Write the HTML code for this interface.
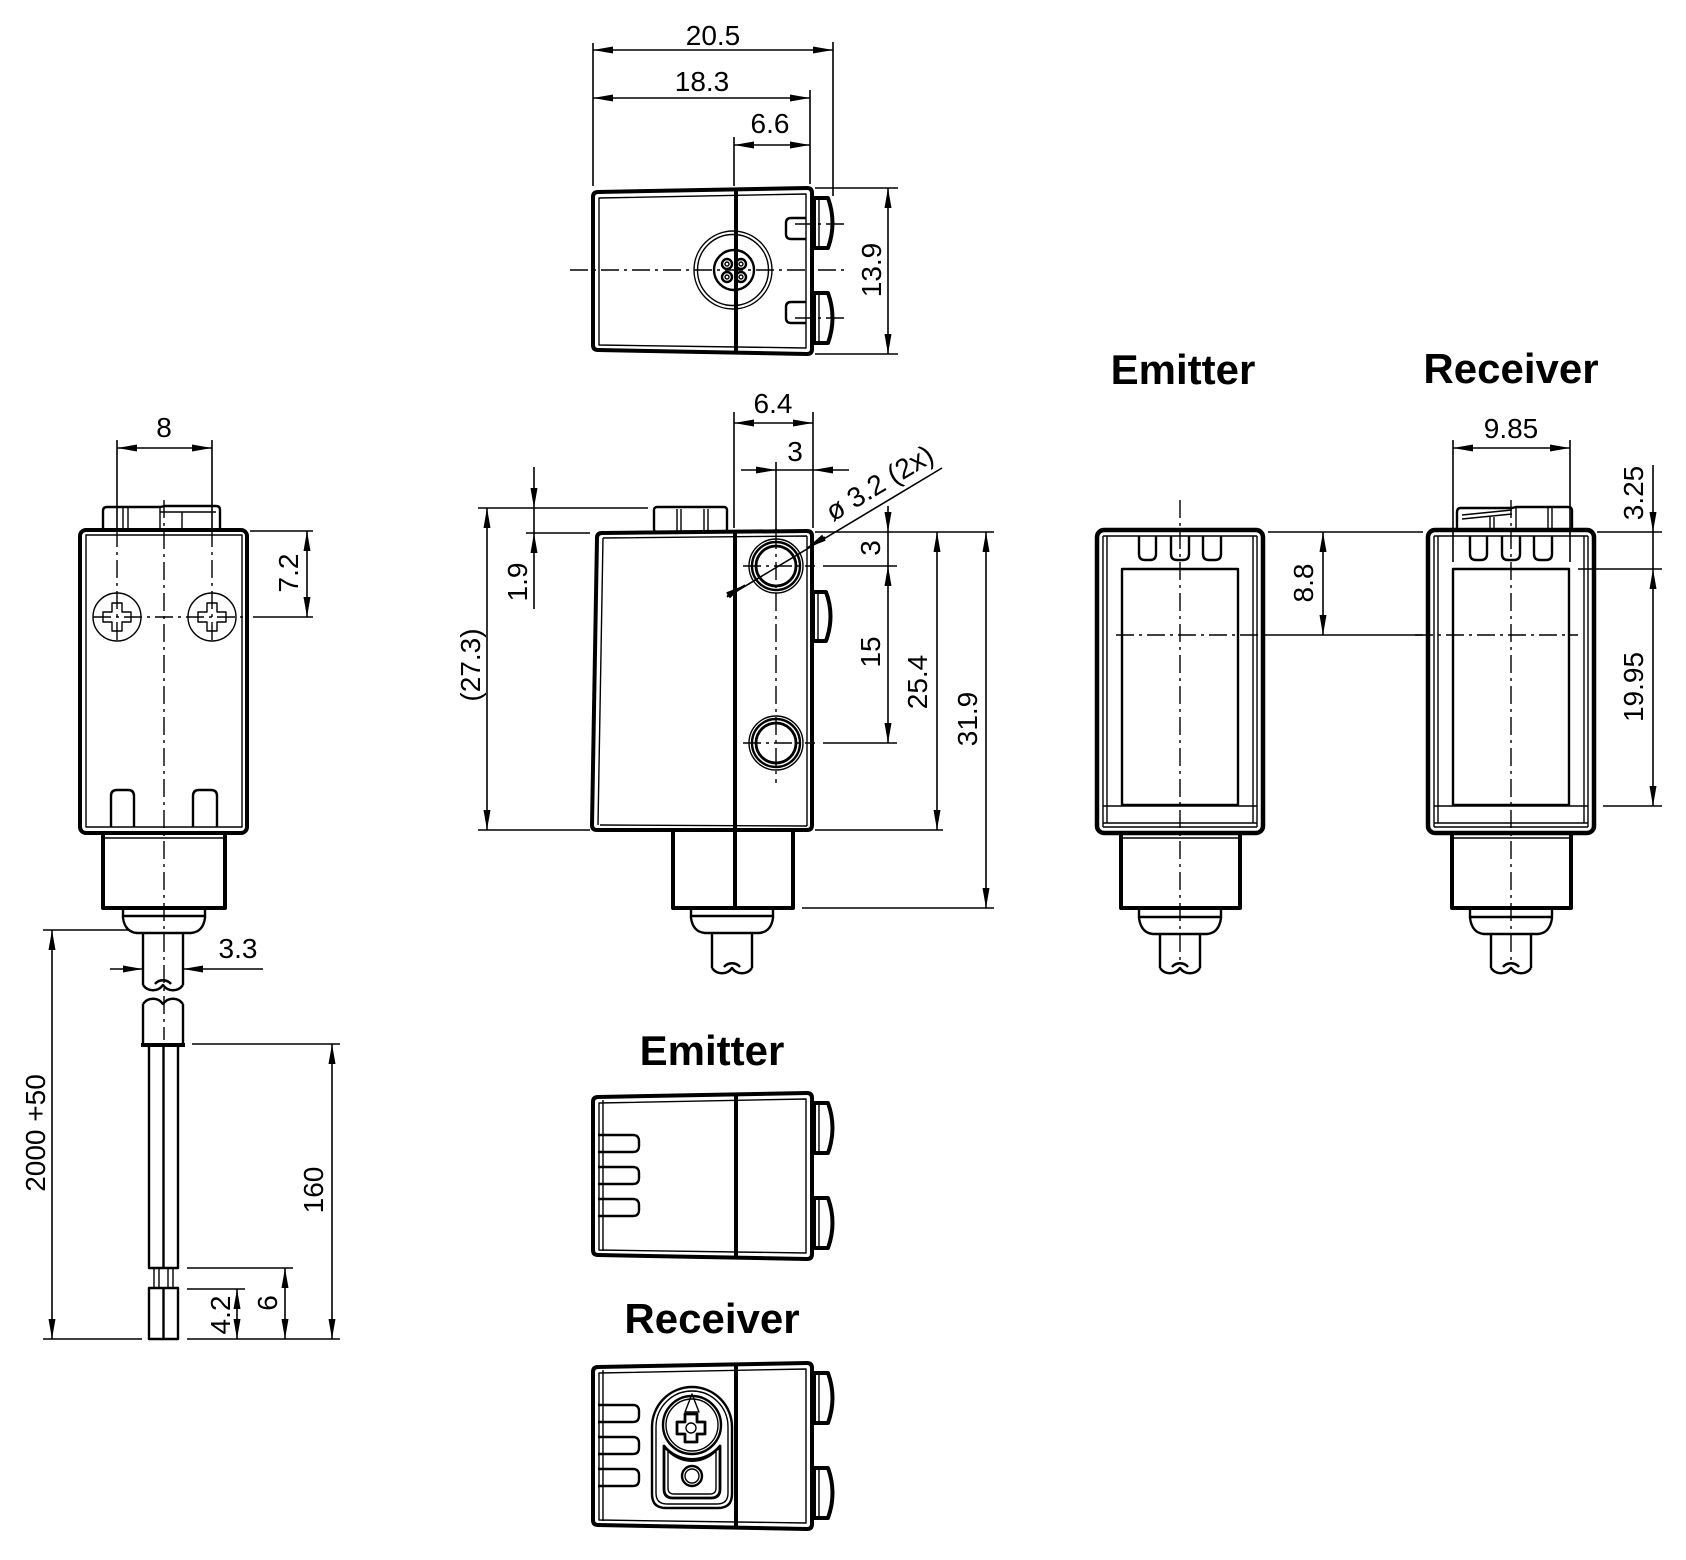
<!DOCTYPE html>
<html><head><meta charset="utf-8">
<style>
html,body{margin:0;padding:0;background:#fff;}
svg{display:block;}
text{font-family:"Liberation Sans",Arial,sans-serif;fill:#000;stroke:none;}
.d{font-size:28px;}
.b{font-size:42px;font-weight:bold;}
.t{stroke-width:4}
.m{stroke-width:2.4}
.n{stroke-width:1.4}
.dl{stroke-width:1.6}
.cl{stroke-width:1.4;stroke-dasharray:18 5 3 5}
</style></head><body>
<svg width="1686" height="1560" viewBox="0 0 1686 1560" xmlns="http://www.w3.org/2000/svg">
<defs>
<marker id="ah" viewBox="0 0 20 7" refX="20" refY="3.5" markerWidth="20" markerHeight="7" markerUnits="userSpaceOnUse" orient="auto-start-reverse"><path d="M0,0 L20,3.5 L0,7 z" fill="#000" stroke="none"/></marker>
</defs>
<g fill="none" stroke="#000" stroke-linejoin="round">

<!-- ========== TOP VIEW ========== -->
<g id="tb">
<path class="t" d="M598,192 L807,188 Q812,188 812,193 V349 Q812,354 807,354 L598,350 Q593,350 593,345 V197 Q593,192 598,192 Z"/>
<path class="n" d="M599,198 L806,194 V348 L599,345 Z"/>
<line class="t" x1="736" y1="189" x2="736" y2="353"/>
<path class="t" d="M814,198 H828 Q837,223 828,248 H814 Z M814,293 H828 Q837,318 828,343 H814 Z"/>
<path class="n" d="M819,198 V248 M819,293 V343"/>
</g>
<circle class="n" cx="733" cy="270" r="39"/>
<circle class="n" cx="733" cy="270" r="35.5"/>
<circle class="m" cx="734" cy="270" r="20"/>
<circle class="m" cx="727" cy="264" r="5"/><circle class="m" cx="741" cy="264" r="5"/>
<circle class="m" cx="727" cy="277" r="5"/><circle class="m" cx="741" cy="277" r="5"/>
<circle class="n" cx="727" cy="264" r="2"/><circle class="n" cx="741" cy="264" r="2"/>
<circle class="n" cx="727" cy="277" r="2"/><circle class="n" cx="741" cy="277" r="2"/>
<path class="m" d="M806,218 H791 Q786,218 786,223 V234 Q786,239 791,239 H806 M806,302 H791 Q786,302 786,307 V318 Q786,323 791,323 H806"/>
<line class="cl" x1="570" y1="270" x2="848" y2="270"/>
<line class="cl" x1="795" y1="224" x2="848" y2="224"/>
<line class="cl" x1="795" y1="318" x2="848" y2="318"/>
<!-- dims top -->
<path class="dl" d="M593,43 V186 M833,42 V196 M810,90 V184 M734,137 V186 M815,188 H898 M815,354 H898"/>
<line class="dl" x1="593" y1="50" x2="833" y2="50" marker-start="url(#ah)" marker-end="url(#ah)"/>
<line class="dl" x1="593" y1="98" x2="810" y2="98" marker-start="url(#ah)" marker-end="url(#ah)"/>
<line class="dl" x1="734" y1="145" x2="810" y2="145" marker-start="url(#ah)" marker-end="url(#ah)"/>
<line class="dl" x1="888" y1="188" x2="888" y2="354" marker-start="url(#ah)" marker-end="url(#ah)"/>
<text class="d" x="713" y="45" text-anchor="middle">20.5</text>
<text class="d" x="702" y="91" text-anchor="middle">18.3</text>
<text class="d" x="770" y="133" text-anchor="middle">6.6</text>
<text class="d" transform="translate(871,270) rotate(-90)" x="0" y="10" text-anchor="middle">13.9</text>

<!-- ========== MIDDLE SIDE VIEW ========== -->
<path class="t" d="M602,533 L807,531 Q812,531 812,536 V825 Q812,830 807,830 L597,830 Q592,830 592,825 L597,538 Q597,533 602,533 Z"/>
<path class="n" d="M603,538 L598,825 M600,825 L807,826 M603,538 L807,536 M807,536 V826"/>
<line class="t" x1="735" y1="531" x2="735" y2="908"/>
<rect class="m" x="654" y="507" width="73" height="25" rx="3"/>
<path class="n" d="M677,509 V531 M681,509 V531 M704,509 V531 M708,509 V531"/>
<circle class="n" cx="776" cy="566" r="27"/><circle class="m" cx="776" cy="566" r="24"/><circle cx="776" cy="566" r="20" stroke-width="2.8"/>
<circle class="n" cx="776" cy="743" r="27"/><circle class="m" cx="776" cy="743" r="24"/><circle cx="776" cy="743" r="20" stroke-width="2.8"/>
<line class="dl" x1="776" y1="462" x2="776" y2="531"/>
<line class="cl" x1="776" y1="531" x2="776" y2="783"/>
<line class="cl" x1="743" y1="566" x2="815" y2="566"/>
<line class="cl" x1="743" y1="743" x2="815" y2="743"/>
<path class="t" d="M813,592 H826 Q835,616 826,641 H813 Z"/>
<line class="n" x1="818" y1="592" x2="818" y2="641"/>
<rect class="t" x="673" y="830" width="120" height="78"/>
<path class="m" d="M691,909 V918 Q693,932 705,933 H759 Q771,932 773,918 V909 M691,916 H773"/>
<path class="m" d="M712,933 V968 M752,933 V968 M712,968 C717,975 727,975 732,968 C737,975 747,975 752,968 M724,967 C728,962 736,962 740,967"/>
<!-- dims middle -->
<path class="dl" d="M734,412 V528 M813,412 V528 M823,566 H897 M823,743 H897 M478,508 H648 M526,533 H590 M478,830 H590 M815,532 H994 M815,830 H943 M802,908 H994"/>
<line class="dl" x1="734" y1="423" x2="813" y2="423" marker-start="url(#ah)" marker-end="url(#ah)"/>
<line class="dl" x1="741" y1="470" x2="776" y2="470" marker-end="url(#ah)"/>
<line class="dl" x1="776" y1="470" x2="813" y2="470"/>
<line class="dl" x1="849" y1="470" x2="813" y2="470" marker-end="url(#ah)"/>
<line class="dl" x1="534" y1="467" x2="534" y2="508" marker-end="url(#ah)"/>
<line class="dl" x1="534" y1="508" x2="534" y2="533"/>
<line class="dl" x1="534" y1="609" x2="534" y2="533" marker-end="url(#ah)"/>
<line class="dl" x1="487" y1="508" x2="487" y2="830" marker-start="url(#ah)" marker-end="url(#ah)"/>
<line class="dl" x1="888" y1="506" x2="888" y2="532" marker-end="url(#ah)"/>
<line class="dl" x1="888" y1="532" x2="888" y2="566"/>
<line class="dl" x1="888" y1="566" x2="888" y2="743" marker-start="url(#ah)" marker-end="url(#ah)"/>
<line class="dl" x1="937" y1="532" x2="937" y2="830" marker-start="url(#ah)" marker-end="url(#ah)"/>
<line class="dl" x1="986" y1="532" x2="986" y2="908" marker-start="url(#ah)" marker-end="url(#ah)"/>
<line class="dl" x1="727" y1="597" x2="942" y2="468"/>
<line class="dl" x1="727" y1="596" x2="745" y2="585" marker-end="url(#ah)"/>
<line class="dl" x1="825" y1="537" x2="807" y2="548" marker-end="url(#ah)"/>
<text class="d" x="773" y="413" text-anchor="middle">6.4</text>
<text class="d" x="795" y="461" text-anchor="middle">3</text>
<text class="d" transform="translate(517,582) rotate(-90)" x="0" y="10" text-anchor="middle">1.9</text>
<text class="d" transform="translate(470,665) rotate(-90)" x="0" y="10" text-anchor="middle">(27.3)</text>
<text class="d" transform="translate(870,548) rotate(-90)" x="0" y="10" text-anchor="middle">3</text>
<text class="d" transform="translate(870,652) rotate(-90)" x="0" y="10" text-anchor="middle">15</text>
<text class="d" transform="translate(917,682) rotate(-90)" x="0" y="10" text-anchor="middle">25.4</text>
<text class="d" transform="translate(967,719) rotate(-90)" x="0" y="10" text-anchor="middle">31.9</text>
<text class="d" transform="translate(833,522) rotate(-31)" x="0" y="0">ø 3.2 (2x)</text>

<!-- ========== LEFT VIEW ========== -->
<path class="m" d="M103,529 V511 Q103,507 107,507 H160 L165,506 H216 Q220,506 220,510 V529"/>
<path class="n" d="M160,512 H216 M160,507 V529 M123,508 V529 M128,508 V529 M182,512 V529"/>
<rect class="t" x="80" y="530" width="167" height="303" rx="6"/>
<rect class="n" x="86" y="535" width="156" height="292"/>
<circle class="n" cx="117" cy="617" r="24"/>
<circle class="n" cx="212" cy="617" r="24"/>
<path class="n" d="M112,603 H122 V612 H131 V622 H122 V631 H112 V622 H103 V612 H112 Z M207,603 H217 V612 H226 V622 H217 V631 H207 V622 H198 V612 H207 Z"/>
<path class="m" d="M111,827 V796 Q111,790 117,790 H128 Q134,790 134,796 V827 M193,827 V796 Q193,790 199,790 H211 Q217,790 217,796 V827"/>
<path class="dl" d="M117,440 V529 M212,440 V529"/>
<line class="cl" x1="117" y1="529" x2="117" y2="645"/>
<line class="cl" x1="212" y1="529" x2="212" y2="645"/>
<line class="cl" x1="93" y1="617" x2="248" y2="617"/>
<line class="cl" x1="164" y1="500" x2="164" y2="1040"/>
<rect class="t" x="103" y="833" width="122" height="75"/>
<line class="n" x1="103" y1="838" x2="225" y2="838"/>
<path class="m" d="M123,909 V918 Q125,932 137,933 H191 Q203,932 205,918 V909 M123,916 H205"/>
<path class="m" d="M143,933 V985 M183,933 V985 M143,985 C148,992 158,992 163,985 C168,992 178,992 183,985 M155,984 C159,979 167,979 171,984"/>
<path class="m" d="M143,1004 V1045 M183,1004 V1045 M143,1004 C148,997 158,997 163,1004 C168,997 178,997 183,1004"/>
<line class="t" x1="141" y1="1045" x2="185" y2="1045"/>
<rect class="m" x="149" y="1045" width="29" height="223"/>
<line class="m" x1="163.5" y1="1045" x2="163.5" y2="1268"/>
<path class="n" d="M154,1268 V1288 M159,1268 V1288 M168,1268 V1288 M173,1268 V1288"/>
<rect class="m" x="149" y="1288" width="29" height="51"/>
<line class="m" x1="163.5" y1="1288" x2="163.5" y2="1339"/>
<!-- dims left -->
<path class="dl" d="M250,531 H313 M253,617 H313 M43,930 H130 M43,1339 H142 M192,1044 H340 M187,1339 H340 M187,1268 H293 M187,1289 H245"/>
<line class="dl" x1="117" y1="448" x2="212" y2="448" marker-start="url(#ah)" marker-end="url(#ah)"/>
<line class="dl" x1="307" y1="531" x2="307" y2="617" marker-start="url(#ah)" marker-end="url(#ah)"/>
<line class="dl" x1="52" y1="930" x2="52" y2="1339" marker-start="url(#ah)" marker-end="url(#ah)"/>
<line class="dl" x1="110" y1="969" x2="143" y2="969" marker-end="url(#ah)"/>
<line class="dl" x1="263" y1="969" x2="183" y2="969" marker-end="url(#ah)"/>
<line class="dl" x1="332" y1="1044" x2="332" y2="1339" marker-start="url(#ah)" marker-end="url(#ah)"/>
<line class="dl" x1="285" y1="1268" x2="285" y2="1339" marker-start="url(#ah)" marker-end="url(#ah)"/>
<line class="dl" x1="237" y1="1289" x2="237" y2="1339" marker-start="url(#ah)" marker-end="url(#ah)"/>
<text class="d" x="164" y="437" text-anchor="middle">8</text>
<text class="d" transform="translate(288,573) rotate(-90)" x="0" y="10" text-anchor="middle">7.2</text>
<text class="d" x="238" y="958" text-anchor="middle">3.3</text>
<text class="d" transform="translate(35,1133) rotate(-90)" x="0" y="10" text-anchor="middle">2000 +50</text>
<text class="d" transform="translate(313,1190) rotate(-90)" x="0" y="10" text-anchor="middle">160</text>
<text class="d" transform="translate(267,1303) rotate(-90)" x="0" y="10" text-anchor="middle">6</text>
<text class="d" transform="translate(220,1315) rotate(-90)" x="0" y="10" text-anchor="middle">4.2</text>

<!-- ========== RIGHT VIEWS ========== -->
<g id="rv">
<rect x="1097" y="530" width="166" height="303" rx="7" stroke-width="4.5"/>
<path class="n" d="M1103,536 V827 M1107,536 V823 M1253,536 V823 M1257,536 V827 M1103,536 H1257 M1103,806 H1257 M1103,823 H1257 M1103,827 H1257"/>
<path class="m" d="M1139,536 V554 Q1139,560 1145,560 H1150 Q1156,560 1156,554 V536 M1171,536 V554 Q1171,560 1177,560 H1183 Q1189,560 1189,554 V536 M1203,536 V554 Q1203,560 1209,560 H1215 Q1221,560 1221,554 V536"/>
<rect class="m" x="1122" y="569" width="116" height="236"/>
<line class="cl" x1="1180" y1="500" x2="1180" y2="965"/>
<rect class="t" x="1121" y="833" width="119" height="75"/>
<line class="n" x1="1119" y1="838" x2="1242" y2="838"/>
<path class="m" d="M1139,909 V918 Q1141,933 1153,934 H1207 Q1219,933 1221,918 V909 M1139,917 H1221"/>
<path class="m" d="M1160,934 V968 M1200,934 V968 M1160,968 C1165,975 1175,975 1180,968 C1185,975 1195,975 1200,968 M1172,967 C1176,962 1184,962 1188,967"/>
</g>
<use href="#rv" transform="translate(331,0)"/>
<line class="cl" x1="1116" y1="635" x2="1258" y2="635"/>
<line class="cl" x1="1415" y1="635" x2="1578" y2="635"/>
<!-- receiver cap -->
<path class="m" d="M1457,530 V512 Q1457,508 1461,508 H1512 L1516,507 H1568 Q1572,507 1572,511 V530"/>
<path class="n" d="M1462,515 L1512,510 M1462,519 L1512,514 M1490,517 V530 M1494,517 V530 M1548,507 V530 M1552,507 V530 M1516,507 V530"/>
<!-- dims right -->
<path class="dl" d="M1268,532 H1423 M1265,635 H1423 M1453,440 V562 M1570,440 V562 M1597,532 H1662 M1578,569 H1662 M1603,806 H1662"/>
<line class="dl" x1="1323" y1="532" x2="1323" y2="635" marker-start="url(#ah)" marker-end="url(#ah)"/>
<line class="dl" x1="1453" y1="448" x2="1570" y2="448" marker-start="url(#ah)" marker-end="url(#ah)"/>
<line class="dl" x1="1653" y1="465" x2="1653" y2="532" marker-end="url(#ah)"/>
<line class="dl" x1="1653" y1="532" x2="1653" y2="569"/>
<line class="dl" x1="1653" y1="569" x2="1653" y2="806" marker-start="url(#ah)" marker-end="url(#ah)"/>
<text class="d" transform="translate(1303,583) rotate(-90)" x="0" y="10" text-anchor="middle">8.8</text>
<text class="d" x="1511" y="438" text-anchor="middle">9.85</text>
<text class="d" transform="translate(1633,493) rotate(-90)" x="0" y="10" text-anchor="middle">3.25</text>
<text class="d" transform="translate(1633,687) rotate(-90)" x="0" y="10" text-anchor="middle">19.95</text>
<text class="b" x="1183" y="384" text-anchor="middle">Emitter</text>
<text class="b" x="1511" y="383" text-anchor="middle">Receiver</text>

<!-- ========== BOTTOM VIEWS ========== -->
<text class="b" x="712" y="1065" text-anchor="middle">Emitter</text>
<use href="#tb" transform="translate(0,905)"/>
<line class="n" x1="603" y1="1100" x2="603" y2="1251"/>
<path class="m" d="M598,1135 H633 Q639,1135 639,1141 V1146 Q639,1152 633,1152 H598 M598,1167 H633 Q639,1167 639,1173 V1178 Q639,1184 633,1184 H598 M598,1199 H633 Q639,1199 639,1205 V1210 Q639,1216 633,1216 H598"/>

<text class="b" x="712" y="1333" text-anchor="middle">Receiver</text>
<use href="#tb" transform="translate(0,1175)"/>
<line class="n" x1="603" y1="1370" x2="603" y2="1521"/>
<path class="m" d="M598,1405 H633 Q639,1405 639,1411 V1416 Q639,1422 633,1422 H598 M598,1437 H633 Q639,1437 639,1443 V1448 Q639,1454 633,1454 H598 M598,1469 H633 Q639,1469 639,1475 V1480 Q639,1486 633,1486 H598"/>
<!-- dial -->
<path class="m" d="M652,1427 A40,40 0 0 1 732,1427 V1494 Q732,1508 718,1508 H666 Q652,1508 652,1494 Z"/>
<path class="n" d="M656,1427 A36,36 0 0 1 728,1427 V1493 Q728,1504 717,1504 H667 Q656,1504 656,1493 Z"/>
<circle class="m" cx="692" cy="1425" r="29"/>
<circle class="n" cx="692" cy="1425" r="26"/>
<path class="n" d="M692,1394 L685,1412 H699 Z"/>
<path stroke-width="2.8" d="M685,1414 H697 V1422 H705 V1434 H697 V1442 H685 V1434 H677 V1422 H685 Z"/>
<circle class="n" cx="691" cy="1428" r="5"/>
<path stroke-width="2.8" d="M664,1446 A36,36 0 0 0 720,1446 V1489 Q720,1498 711,1498 H673 Q664,1498 664,1489 Z"/>
<path class="n" d="M668,1451 A33,33 0 0 0 716,1451 V1488 Q716,1494 710,1494 H674 Q668,1494 668,1488 Z"/>
<circle class="m" cx="692" cy="1476" r="10"/>
<circle class="n" cx="692" cy="1476" r="7"/>
</g>
</svg>
</body></html>
